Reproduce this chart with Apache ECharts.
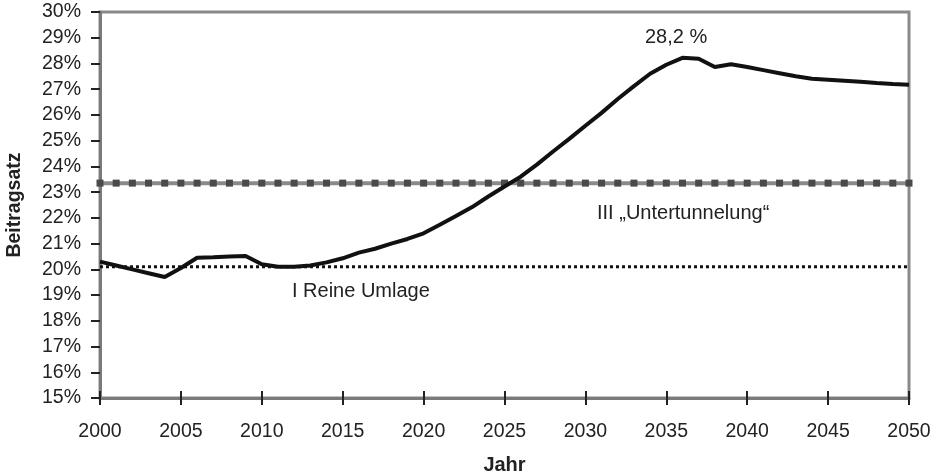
<!DOCTYPE html>
<html>
<head>
<meta charset="utf-8">
<script src="https://cdn.jsdelivr.net/npm/echarts@6/dist/echarts.min.js"></script>
<style>
html,body{margin:0;padding:0;background:#fff;}
#chart{width:942px;height:473px;}
</style>
</head>
<body>
<div id="chart"></div>
<script>
var years = [];
for (var y = 2000; y <= 2050; y++) years.push(y);

var beitragssatz = [
  20.3, 20.15, 20.0, 19.85, 19.7, 20.05, 20.45, 20.47, 20.5, 20.52,
  20.2, 20.1, 20.1, 20.15, 20.27, 20.43, 20.65, 20.8, 21.0, 21.18,
  21.4, 21.73, 22.07, 22.42, 22.83, 23.22, 23.6, 24.07, 24.58, 25.07,
  25.58, 26.08, 26.62, 27.12, 27.6, 27.95, 28.22, 28.18, 27.86, 27.97,
  27.86, 27.74, 27.62, 27.5, 27.41, 27.37, 27.33, 27.29, 27.24, 27.2,
  27.17
];
var untertunnelung = 23.35;
var reineUmlage = 20.1;
var peakLabel = "28,2 %";
var labelUnter = "III \u201EUntertunnelung\u201C";
var labelUmlage = "I Reine Umlage";

var mainData = years.map(function (yr, i) { return [yr, beitragssatz[i]]; });
var unterData = years.map(function (yr) { return [yr, untertunnelung]; });
var umlageData = [[2000, reineUmlage], [2050, reineUmlage]];

var FONT = '"Liberation Sans", Arial, Helvetica, sans-serif';
var chart = echarts.init(document.getElementById('chart'));
chart.setOption({
  animation: false,
  backgroundColor: '#fff',
  textStyle: { fontFamily: FONT },
  grid: { left: 100, right: 33, top: 12, bottom: 75, containLabel: false, outerBoundsMode: 'none',
          show: true, borderColor: '#8a8a8a', borderWidth: 3 },
  xAxis: [{
    type: 'value', min: 2000, max: 2050, interval: 5,
    name: 'Jahr', nameLocation: 'middle', nameGap: 57,
    nameTextStyle: { fontSize: 20, fontWeight: 'bold', color: '#222', fontFamily: FONT },
    axisLine: { show: true, lineStyle: { color: '#7a7a7a', width: 3 } },
    axisTick: { show: true, length: 7, lineStyle: { color: '#222', width: 2 } },
    axisLabel: { fontSize: 19.5, color: '#222', margin: 24, fontFamily: FONT,
                 formatter: function (v) { return String(v); } },
    splitLine: { show: false }
  }, {
    type: 'value', min: 2000, max: 2050, interval: 5, position: 'bottom', gridIndex: 0,
    axisLine: { show: false },
    axisTick: { show: true, inside: true, length: 7, lineStyle: { color: '#222', width: 2 } },
    axisLabel: { show: false },
    splitLine: { show: false }
  }],
  yAxis: {
    type: 'value', min: 15, max: 30, interval: 1,
    name: 'Beitragsatz', nameLocation: 'middle', nameGap: 75,
    nameTextStyle: { fontSize: 19.5, fontWeight: 'bold', color: '#222', fontFamily: FONT },
    axisLine: { show: true, lineStyle: { color: '#7a7a7a', width: 3 } },
    axisTick: { show: true, length: 9, lineStyle: { color: '#222', width: 2 } },
    axisLabel: { fontSize: 19.5, color: '#222', margin: 19, formatter: '{value}%', fontFamily: FONT },
    splitLine: { show: false }
  },
  series: [{
    type: 'line', data: umlageData, showSymbol: false, symbol: 'none',
    lineStyle: { color: '#111', width: 3, type: [3, 3] }, z: 2
  }, {
    type: 'line', data: unterData, symbol: 'rect', symbolSize: 7, showSymbol: true,
    itemStyle: { color: '#4a4a4a', borderWidth: 0 },
    lineStyle: { color: '#8a8a8a', width: 4 }, z: 3
  }, {
    type: 'line', data: mainData, showSymbol: false, symbol: 'none',
    lineStyle: { color: '#111', width: 4 }, z: 4
  }],
  graphic: [
    { type: 'text', left: 645, top: 27, style: { text: peakLabel, fill: '#222', font: '20px ' + FONT } },
    { type: 'text', left: 597, top: 203, style: { text: labelUnter, fill: '#222', font: '20px ' + FONT } },
    { type: 'text', left: 292, top: 281, style: { text: labelUmlage, fill: '#222', font: '20px ' + FONT } }
  ]
});
</script>
</body>
</html>
